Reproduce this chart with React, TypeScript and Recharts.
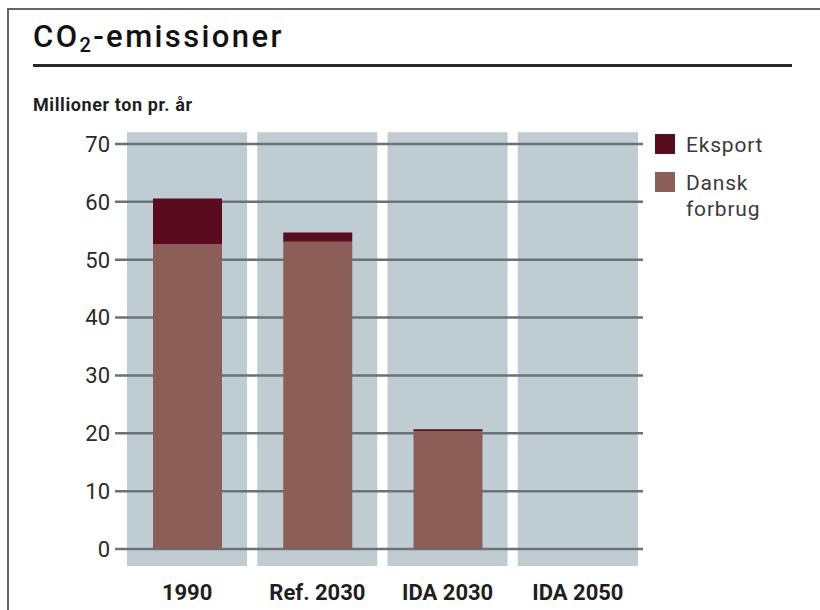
import React from 'react';
import { BarChart, Bar, XAxis, YAxis, CartesianGrid, ReferenceArea } from 'recharts';

const categories = ['1990', 'Ref. 2030', 'IDA 2030', 'IDA 2050'];
const danskForbrug = [52.7, 53.1, 20.4, 0];
const eksport = [7.9, 1.6, 0.3, 0];
const yTicks = [0, 10, 20, 30, 40, 50, 60, 70];

const legendItems = [
  { name: 'Eksport', color: '#5b0b1f' },
  { name: 'Dansk forbrug', color: '#8c5e58' },
];

const data = categories.map((name, i) => ({
  name,
  dansk: danskForbrug[i],
  eksport: eksport[i],
}));

const FONT = 'Roboto, "Noto Sans", sans-serif';

const App: React.FC = () => {
  return (
    <div style={{ position: 'fixed', left: 0, top: 0, width: 820, height: 610, background: '#fff', fontFamily: FONT, overflow: 'hidden', zIndex: 10 }}>
      <style>{'html, body { margin: 0; overflow: hidden; }'}</style>
      {/* frame: top and left edges only */}
      <div style={{ position: 'absolute', left: 7, top: 8, width: 813, height: 2, background: '#666' }} />
      <div style={{ position: 'absolute', left: 7, top: 8, width: 2, height: 602, background: '#666' }} />

      <div style={{ position: 'absolute', left: 33, top: 20, fontSize: 31, fontWeight: 500, letterSpacing: 2.4, color: '#111', lineHeight: '34px', whiteSpace: 'nowrap' }}>
        CO<sub style={{ fontSize: 20, verticalAlign: -5, lineHeight: 0 }}>2</sub>-emissioner
      </div>
      <div style={{ position: 'absolute', left: 33, top: 64, width: 759, height: 3, background: '#2a2a2a' }} />
      <div style={{ position: 'absolute', left: 33, top: 94, fontSize: 18, fontWeight: 700, letterSpacing: 0.6, color: '#1f1f1f', lineHeight: '22px', whiteSpace: 'nowrap' }}>
        Millioner ton pr. år
      </div>

      <div style={{ position: 'absolute', left: 0, top: 0 }}>
        <BarChart
          width={820}
          height={610}
          data={data}
          margin={{ top: 144, right: 177, bottom: 21, left: 55 }}
        >
          {categories.map((c) => (
            <ReferenceArea
              key={c}
              x1={c}
              x2={c}
              y1={-3.8}
              y2={72.9}
              fill="#bfcdd3"
              fillOpacity={1}
              stroke="#ffffff"
              strokeWidth={10}
              ifOverflow="visible"
              zIndex={-200}
            />
          ))}
          <CartesianGrid vertical={false} stroke="#6b7277" strokeWidth={2.5} />
          <XAxis
            dataKey="name"
            axisLine={false}
            tickLine={false}
            tickSize={0}
            tickMargin={35}
            height={40}
            padding={{ left: 7, right: 0 }}
            tick={{ fill: '#1f1f1f', fontSize: 22, fontWeight: 700, fontFamily: FONT }}
          />
          <YAxis
            domain={[0, 70]}
            ticks={yTicks}
            axisLine={false}
            tickLine={false}
            tickSize={0}
            tickMargin={5}
            width={60}
            tick={{ fill: '#2a2a2a', fontSize: 22, fontFamily: FONT }}
          />
          <Bar dataKey="dansk" stackId="a" fill="#8c5e58" barSize={69} isAnimationActive={false} />
          <Bar dataKey="eksport" stackId="a" fill="#5b0b1f" barSize={69} isAnimationActive={false} />
        </BarChart>
      </div>

      {/* legend */}
      <div style={{ position: 'absolute', left: 655, top: 134 }}>
        {legendItems.map((item) => (
          <div key={item.name} style={{ display: 'flex', alignItems: 'flex-start', marginBottom: 14 }}>
            <div style={{ width: 20, height: 20, background: item.color, flex: 'none' }} />
            <div style={{ marginLeft: 11, width: 95, fontSize: 21, letterSpacing: 0.8, lineHeight: '26px', color: '#3a3a3a', marginTop: -2 }}>
              {item.name}
            </div>
          </div>
        ))}
      </div>
    </div>
  );
};

export default App;
